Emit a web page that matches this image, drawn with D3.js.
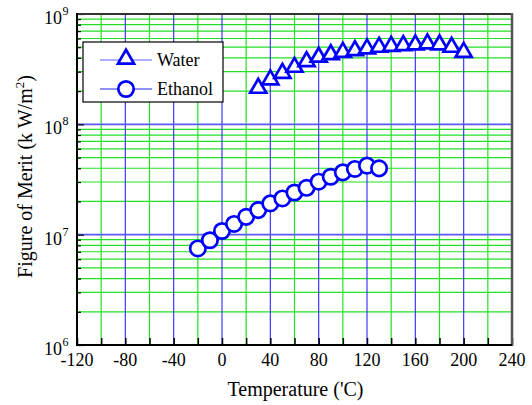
<!DOCTYPE html>
<html>
<head>
<meta charset="utf-8">
<title>Figure of Merit</title>
<script src="https://d3js.org/d3.v7.min.js"></script>
<style>
  body { margin: 0; background: #fff; }
  text { font-family: "Liberation Serif", "Times New Roman", serif; }
</style>
</head>
<body>
<div id="mychart"></div>
<script>
// temperatures ('C)
var waterTemps = [30, 40, 50, 60, 70, 80, 90, 100, 110, 120, 130, 140, 150, 160, 170, 180, 190, 200];
var waterMerit = [2.13e8, 2.54e8, 2.91e8, 3.30e8, 3.71e8, 4.07e8, 4.29e8, 4.51e8, 4.67e8, 4.85e8,
                  5.01e8, 5.11e8, 5.19e8, 5.26e8, 5.37e8, 5.26e8, 5.01e8, 4.51e8];
var ethanolTemps = [-20, -10, 0, 10, 20, 30, 40, 50, 60, 70, 80, 90, 100, 110, 120, 130];
var ethanolMerit = [7.5e6, 8.9e6, 1.08e7, 1.25e7, 1.45e7, 1.67e7, 1.92e7, 2.13e7, 2.41e7, 2.66e7,
                    3.02e7, 3.35e7, 3.67e7, 3.94e7, 4.22e7, 3.99e7];
var xTicks = [-120, -80, -40, 0, 40, 80, 120, 160, 200, 240];
var yTicks = [1e6, 1e7, 1e8, 1e9];
var seriesNames = ["Water", "Ethanol"];

var width = 532, height = 405;
var pLeft = 77, pTop = 14, pRight = 512, pBottom = 345;

var svg = d3.select("#mychart").append("svg")
  .attr("width", width).attr("height", height);

var x = d3.scaleLinear().domain([-120, 240]).range([pLeft, pRight]);
var y = d3.scaleLog().domain([1e6, 1e9]).range([pBottom, pTop]);

// grid
var grid = svg.append("g");
var xMinor = d3.range(-100, 240, 40);
grid.selectAll(".vg").data(xMinor).enter().append("line")
  .attr("x1", d => x(d)).attr("x2", d => x(d))
  .attr("y1", pTop).attr("y2", pBottom)
  .attr("stroke", "#22e022").attr("stroke-width", 1.2);
var yMinor = y.ticks().filter(d => yTicks.indexOf(d) < 0);
grid.selectAll(".hg").data(yMinor).enter().append("line")
  .attr("x1", pLeft).attr("x2", pRight)
  .attr("y1", d => y(d)).attr("y2", d => y(d))
  .attr("stroke", "#22e022").attr("stroke-width", 1.2);
grid.selectAll(".vb").data(xTicks.slice(1, -1)).enter().append("line")
  .attr("x1", d => x(d)).attr("x2", d => x(d))
  .attr("y1", pTop).attr("y2", pBottom)
  .attr("stroke", "#3a3aff").attr("stroke-width", 1.2);
grid.selectAll(".hb").data(yTicks.slice(1, -1)).enter().append("line")
  .attr("x1", pLeft).attr("x2", pRight)
  .attr("y1", d => y(d)).attr("y2", d => y(d))
  .attr("stroke", "#5a5aff").attr("stroke-width", 1.6);

// series
var water = waterTemps.map((t, i) => [t, waterMerit[i]]);
var ethanol = ethanolTemps.map((t, i) => [t, ethanolMerit[i]]);
var line = d3.line().x(d => x(d[0])).y(d => y(d[1]));
var tri = d3.symbol().type(d3.symbolTriangle).size(112);

svg.append("path").datum(water).attr("d", line)
  .attr("fill", "none").attr("stroke", "#2020ff").attr("stroke-width", 1.5);
svg.selectAll(".tri").data(water).enter().append("path")
  .attr("d", tri)
  .attr("transform", d => "translate(" + x(d[0]) + "," + y(d[1]) + ")")
  .attr("fill", "#fff").attr("stroke", "#0000ff").attr("stroke-width", 2.7);

svg.append("path").datum(ethanol).attr("d", line)
  .attr("fill", "none").attr("stroke", "#2020ff").attr("stroke-width", 1.5);
svg.selectAll(".circ").data(ethanol).enter().append("circle")
  .attr("cx", d => x(d[0])).attr("cy", d => y(d[1])).attr("r", 7.7)
  .attr("fill", "#fff").attr("stroke", "#0000ff").attr("stroke-width", 2.7);

// axes
var xAxis = d3.axisBottom(x).tickValues(d3.range(-120, 241, 20))
  .tickSizeInner(-7).tickSizeOuter(0).tickFormat("");
svg.append("g").attr("transform", "translate(0," + pBottom + ")").call(xAxis)
  .call(g => g.select(".domain").remove())
  .selectAll("line").attr("stroke", "#000").attr("stroke-width", 1.5);

var yAxis = d3.axisLeft(y).tickValues(y.ticks())
  .tickSizeInner(-4).tickSizeOuter(0).tickFormat("");
var ya = svg.append("g").attr("transform", "translate(" + pLeft + ",0)").call(yAxis);
ya.select(".domain").remove();
ya.selectAll(".tick line").attr("stroke", "#000").attr("stroke-width", 1.2)
  .attr("x2", d => yTicks.indexOf(d) >= 0 ? 7 : 4);

// frame
svg.append("line").attr("x1", pLeft).attr("x2", pRight).attr("y1", pTop).attr("y2", pTop)
  .attr("stroke", "#333").attr("stroke-width", 2);
svg.append("line").attr("x1", pRight).attr("x2", pRight).attr("y1", pTop - 1).attr("y2", pBottom + 1)
  .attr("stroke", "#555").attr("stroke-width", 2.5);
svg.append("line").attr("x1", pLeft).attr("x2", pLeft).attr("y1", pTop - 1).attr("y2", pBottom + 1)
  .attr("stroke", "#000").attr("stroke-width", 2);
svg.append("line").attr("x1", pLeft - 1).attr("x2", pRight).attr("y1", pBottom).attr("y2", pBottom)
  .attr("stroke", "#000").attr("stroke-width", 2);

// tick labels
svg.selectAll(".xl").data(xTicks).enter().append("text")
  .attr("x", d => x(d)).attr("y", 366)
  .attr("text-anchor", "middle").attr("font-size", 18)
  .text(d => d);

svg.selectAll(".yl").data(yTicks).enter().append("text")
  .attr("x", 62).attr("y", d => y(d) + 10)
  .attr("text-anchor", "end").attr("font-size", 18)
  .text("10");
svg.selectAll(".ye").data(yTicks).enter().append("text")
  .attr("x", 62.5).attr("y", d => y(d) + 1)
  .attr("font-size", 12)
  .text(d => Math.round(Math.log10(d)));

// axis titles
svg.append("text").attr("x", (pLeft + pRight) / 2 + 1).attr("y", 396)
  .attr("text-anchor", "middle").attr("font-size", 20)
  .text("Temperature ('C)");
var yt = svg.append("text")
  .attr("transform", "translate(32," + ((pTop + pBottom) / 2 - 3) + ") rotate(-90)")
  .attr("text-anchor", "middle").attr("font-size", 20);
yt.append("tspan").text("Figure of Merit (k W/m");
yt.append("tspan").attr("font-size", 13).attr("dy", -8).text("2");
yt.append("tspan").attr("dy", 8).text(")");

// legend
var lg = svg.append("g");
lg.append("rect").attr("x", 83).attr("y", 42).attr("width", 140).attr("height", 60)
  .attr("fill", "#fff").attr("stroke", "#000").attr("stroke-width", 1.2);
var legendColors = ["#6060ff", "#2020ff"];
seriesNames.forEach(function(name, i) {
  var ly = 60 + i * 29;
  lg.append("line").attr("x1", 100).attr("x2", 152).attr("y1", ly).attr("y2", ly)
    .attr("stroke", legendColors[i]).attr("stroke-width", 1.2);
  if (i === 0) {
    lg.append("path").attr("d", tri).attr("transform", "translate(126," + (ly - 1) + ")")
      .attr("fill", "#fff").attr("stroke", "#0000ff").attr("stroke-width", 2.7);
  } else {
    lg.append("circle").attr("cx", 126).attr("cy", ly).attr("r", 7.7)
      .attr("fill", "#fff").attr("stroke", "#0000ff").attr("stroke-width", 2.7);
  }
  lg.append("text").attr("x", 157).attr("y", ly + 6).attr("font-size", 18).text(name);
});
</script>
</body>
</html>
